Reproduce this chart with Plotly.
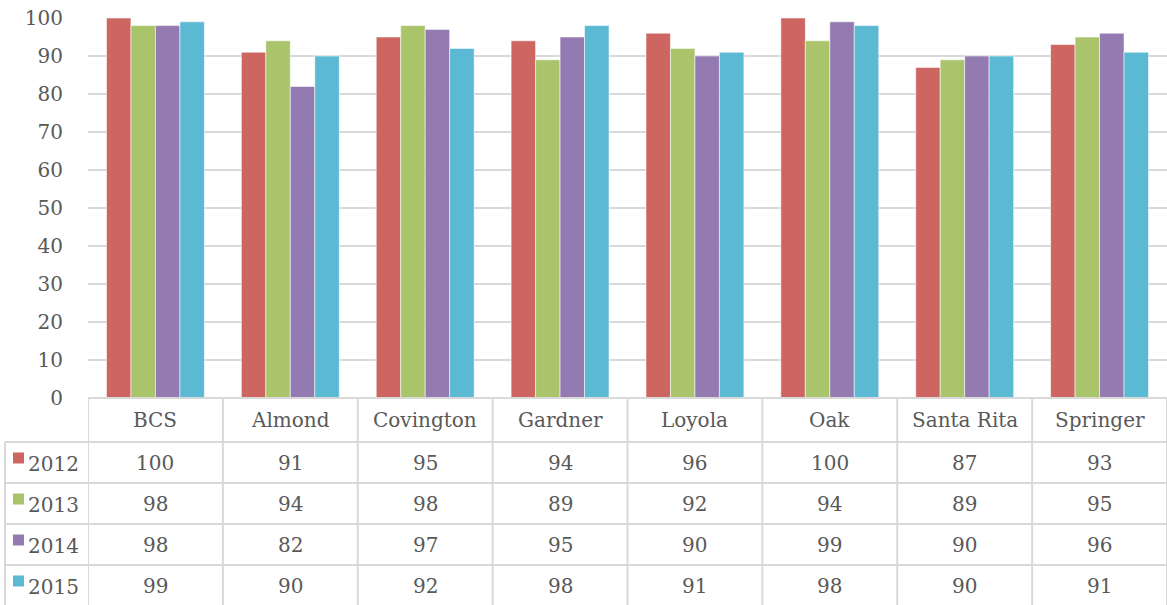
import plotly.graph_objects as go

schools = ["BCS", "Almond", "Covington", "Gardner", "Loyola", "Oak", "Santa Rita", "Springer"]
years = ["2012", "2013", "2014", "2015"]
v2012 = [100, 91, 95, 94, 96, 100, 87, 93]
v2013 = [98, 94, 98, 89, 92, 94, 89, 95]
v2014 = [98, 82, 97, 95, 90, 99, 90, 96]
v2015 = [99, 90, 92, 98, 91, 98, 90, 91]
series = [v2012, v2013, v2014, v2015]
colors = ["#CD6660", "#A9C46B", "#937AB0", "#5BB9D3"]
yticks = [0, 10, 20, 30, 40, 50, 60, 70, 80, 90, 100]

W, H = 1167, 605
ML, MR, MT, MB = 88, 0, 18, 207
plot_h = H - MT - MB
plot_w = W - ML - MR
FONT = "DejaVu Serif"
FS = 20
TXT = "#595959"
LINE = "#D9D9D9"

def py(px):
    # convert pixel y (from top) to paper coordinate
    return (H - MB - px) / plot_h

def pxx(px):
    return (px - ML) / plot_w

fig = go.Figure()
for yr, vals, c in zip(years, series, colors):
    fig.add_trace(go.Bar(
        x=schools, y=vals, name=yr,
        marker=dict(color=c, line=dict(color="rgba(255,255,255,0.55)", width=1)),
        hoverinfo="x+y+name",
    ))

# table geometry (pixels)
row_edges = [398, 442, 483, 524, 565, 606]
left_px = 5

shapes = []
for i, e in enumerate(row_edges[:-1]):
    x0 = pxx(ML) if i == 0 else pxx(left_px)
    shapes.append(dict(type="line", xref="paper", yref="paper", x0=x0, x1=1,
                       y0=py(e), y1=py(e), line=dict(color=LINE, width=2)))
for k in range(len(schools) + 1):
    shapes.append(dict(type="line", xref="x", yref="paper", x0=k - 0.5, x1=k - 0.5,
                       y0=0, y1=py(H + 2), line=dict(color=LINE, width=2)))
shapes.append(dict(type="line", xref="paper", yref="paper", x0=pxx(left_px), x1=pxx(left_px),
                   y0=py(row_edges[1]), y1=py(H + 2), line=dict(color=LINE, width=2)))

annotations = []
hc = (row_edges[0] + row_edges[1]) / 2
for s in schools:
    annotations.append(dict(x=s, xref="x", y=py(hc), yref="paper", text=s, showarrow=False,
                            font=dict(family=FONT, size=FS, color=TXT), xanchor="center", yanchor="middle"))
for r, (yr, vals, c) in enumerate(zip(years, series, colors)):
    rc = (row_edges[r + 1] + row_edges[r + 2]) / 2
    for s, v in zip(schools, vals):
        annotations.append(dict(x=s, xref="x", y=py(rc), yref="paper", text=str(v), showarrow=False,
                                font=dict(family=FONT, size=FS, color=TXT), xanchor="center", yanchor="middle"))
    annotations.append(dict(x=pxx(26), xref="paper", y=py(rc + 1), yref="paper", text=yr, showarrow=False,
                            font=dict(family=FONT, size=FS, color=TXT), xanchor="left", yanchor="middle"))
    shapes.append(dict(type="rect", xref="paper", yref="paper", x0=pxx(13), x1=pxx(24),
                       y0=py(rc - 10), y1=py(rc + 1), fillcolor=c, line=dict(width=0)))

fig.update_layout(
    width=W, height=H,
    margin=dict(l=ML, r=MR, t=MT, b=MB),
    paper_bgcolor="white", plot_bgcolor="white",
    barmode="group", bargap=0.274, bargroupgap=0,
    showlegend=False,
    font=dict(family=FONT, size=FS, color=TXT),
    xaxis=dict(range=[-0.5, len(schools) - 0.5], showticklabels=False, showgrid=False,
               zeroline=False, showline=False, ticks=""),
    yaxis=dict(range=[0, 100], tickvals=yticks, showgrid=True, gridcolor=LINE, gridwidth=2,
               zeroline=False, showline=False, ticks="", ticklabelstandoff=24,
               tickfont=dict(family=FONT, size=FS, color=TXT)),
    shapes=shapes, annotations=annotations,
)

fig.write_html("out.html")
